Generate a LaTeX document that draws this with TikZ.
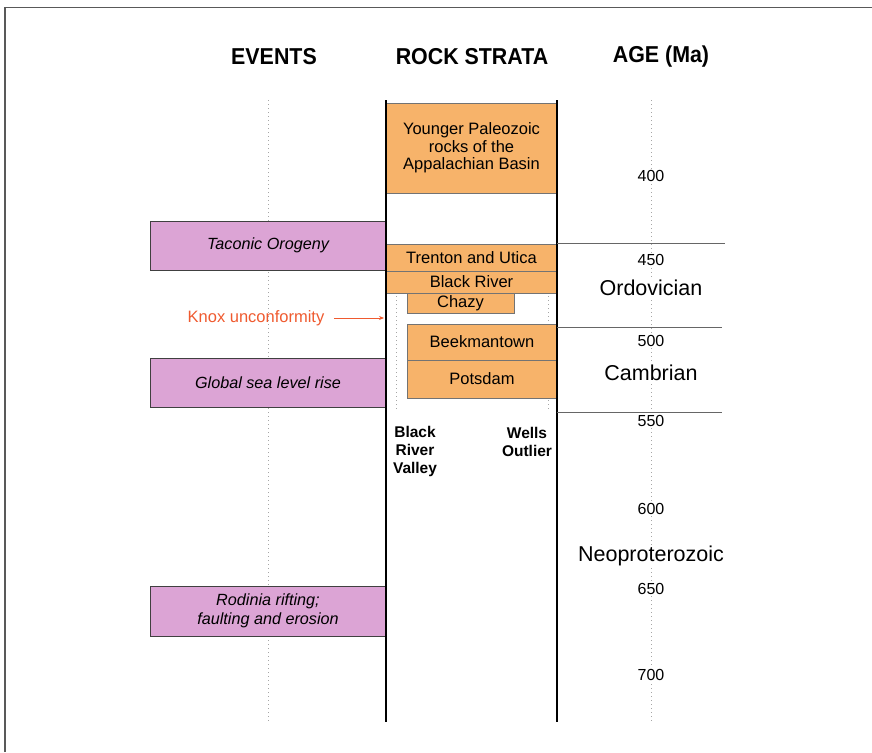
\documentclass[tikz,border=0pt]{standalone}
\usepackage{fontspec}
\setmainfont{Liberation Sans}
\newfontfamily\headfont[FakeStretch=0.93]{Liberation Sans}
\usetikzlibrary{positioning, arrows.meta}

\definecolor{stratafill}{HTML}{F7B36A}
\definecolor{eventfill}{HTML}{DCA4D5}
\definecolor{knoxred}{HTML}{EF5A2F}

\tikzset{
  header/.style={font=\headfont\fontsize{23}{26}\selectfont\bfseries},
  eventbox/.style={draw=black!75, line width=0.6pt, fill=eventfill, inner sep=0pt,
    minimum width=236pt, align=center,
    font=\fontsize{16.2}{18.5}\selectfont\itshape},
  stratum/.style={draw=black!55, line width=0.6pt, fill=stratafill, inner sep=0pt,
    align=center, font=\fontsize{16.5}{17.5}\selectfont},
  agelabel/.style={font=\fontsize{16}{18}\selectfont},
  period/.style={font=\fontsize{21.5}{24}\selectfont},
  sitelabel/.style={align=center, font=\fontsize{15.5}{18}\selectfont\bfseries},
  guide/.style={black!35, line width=0.8pt, dash pattern=on 1pt off 3pt},
  column/.style={black, line width=2.6pt},
  boundary/.style={black!60, line width=0.7pt}
}

\begin{document}
\begin{tikzpicture}[x=1pt, y=-1pt]
\useasboundingbox (0,0) rectangle (872,752);
\draw[black!65, line width=1.3pt] (5,752) |- (872,7.5);

% column headers
\node[header] (events) at (274,57) {EVENTS};
\node[header] (strata) at (472,57) {ROCK STRATA};
\node[header] (age) at (661,57) {AGE (Ma)};

% dotted guides
\draw[guide] (268,100) -- (268,722);
\draw[guide] (651,100) -- (651,722);
\draw[guide] (396,244) -- (396,412);
\draw[guide] (548,244) -- (548,412);

% events
\node[eventbox, minimum height=49pt] (taconic) at (268,245.5) {Taconic Orogeny};
\node[eventbox, minimum height=49pt] (sealevel) at (268,382.5) {Global sea level rise};
\node[eventbox, minimum height=50pt] (rodinia) at (268,611) {Rodinia rifting;\\faulting and erosion};

% rock strata
\node[stratum, minimum width=171pt, minimum height=90pt] (younger) at (471.5,148)
  {Younger Paleozoic\\rocks of the\\Appalachian Basin};
\node[stratum, minimum width=171pt, minimum height=27pt] (trenton) at (471.5,257.5) {Trenton and Utica};
\node[stratum, minimum width=171pt, minimum height=22pt] (blackriver) at (471.5,282) {Black River};
\node[stratum, minimum width=107pt, minimum height=20pt] (chazy) at (460.5,303) {Chazy};
\node[stratum, minimum width=150pt, minimum height=36pt] (beekmantown) at (482,342) {Beekmantown};
\node[stratum, minimum width=150pt, minimum height=38pt] (potsdam) at (482,379) {Potsdam};

\draw[column] (386,100) -- (386,722);
\draw[column] (557,100) -- (557,722);

\node[sitelabel] (brvalley) at (415,451) {Black\\River\\Valley};
\node[sitelabel] (wells) at (527,442) {Wells\\Outlier};

% unconformity
\node[text=knoxred, font=\fontsize{16.5}{18}\selectfont] (knox) at (256,318) {Knox unconformity};
\coordinate (gap) at (384,318);
\draw[knoxred, line width=0.8pt, -{Stealth[length=5pt, width=4pt]}] (knox.east) ++(6,0) -- (gap);

% ages and periods
\foreach \a/\y in {400/176, 450/260, 500/341, 550/421, 600/509, 650/589, 700/675}
  \node[agelabel, fill=white, inner sep=1pt] (age\a) at (651,\y) {\a};
\node[period, fill=white, inner sep=1pt] (ordovician) at (651,288) {Ordovician};
\node[period, fill=white, inner sep=1pt] (cambrian) at (651,373) {Cambrian};
\node[period, fill=white, inner sep=1pt] (neoproterozoic) at (651,556) {Neoproterozoic};

\draw[boundary] (557,243) -- (725,243);
\draw[boundary] (557,327) -- (722,327);
\draw[boundary] (557,412) -- (722,412);
\end{tikzpicture}
\end{document}
